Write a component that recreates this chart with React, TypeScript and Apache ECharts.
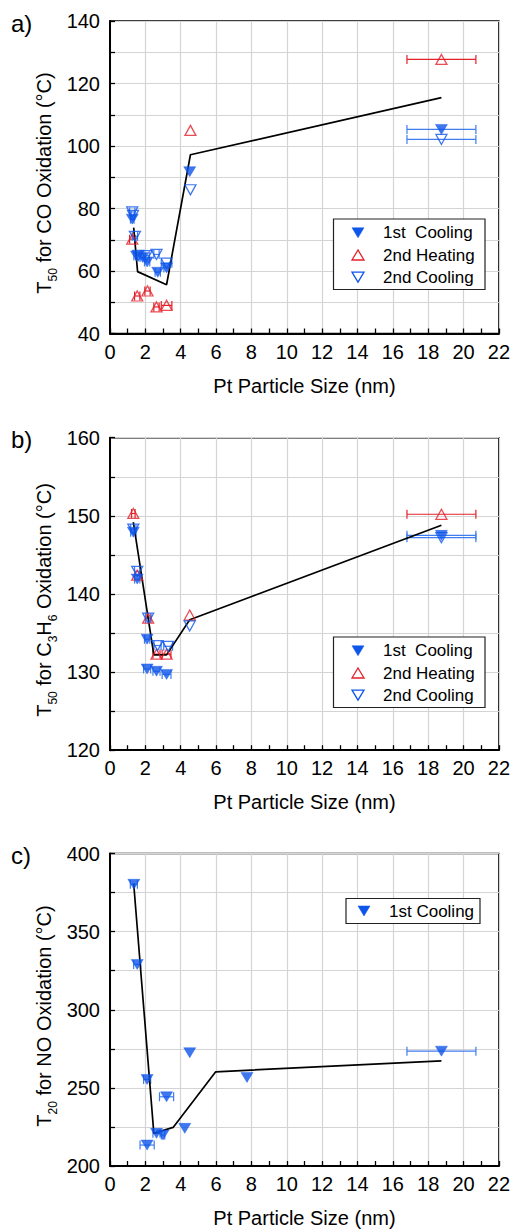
import React, { useEffect, useRef } from "react";
import * as echarts from "echarts";

// ---------- DATA: [particle size (nm), temperature (°C), size error (nm)] ----------
// Panel a) T50 for CO oxidation
const coCooling1 = [
  [1.26, 76.6, 0.1], [1.5, 64.8, 0.15], [1.85, 64.3, 0.15], [2.1, 62.9, 0.15],
  [2.7, 59.6, 0.15], [3.2, 61.0, 0.15], [4.51, 91.8, 0], [18.75, 105.3, 1.95],
];
const coHeating2 = [
  [1.26, 70.2, 0.15], [1.54, 52.0, 0.15], [2.12, 53.6, 0.15], [2.63, 48.5, 0.15],
  [3.2, 49.0, 0.3], [4.55, 105.0, 0], [18.75, 127.7, 1.95],
];
const coCooling2 = [
  [1.26, 78.9, 0.15], [1.3, 77.8, 0.1], [1.41, 71.1, 0.15], [1.6, 65.0, 0.15],
  [2.07, 64.9, 0.15], [2.63, 65.3, 0.15], [3.2, 62.5, 0.3], [4.55, 86.0, 0], [18.75, 102.1, 1.95],
];
const coTrend = [[1.34, 73.9], [1.56, 59.8], [3.2, 55.6], [4.55, 97.2], [18.75, 115.5]];

// Panel b) T50 for C3H6 oxidation
const c3h6Cooling1 = [
  [1.32, 147.9, 0.15], [1.54, 141.9, 0.15], [2.1, 134.2, 0.15], [2.1, 130.4, 0.2],
  [2.63, 130.1, 0.2], [3.2, 129.7, 0.25], [18.75, 147.5, 1.95],
];
const c3h6Heating2 = [
  [1.32, 150.3, 0.1], [1.54, 142.4, 0.15], [2.16, 136.9, 0.15], [2.63, 132.3, 0.2],
  [3.2, 132.3, 0.25], [4.51, 137.3, 0], [18.75, 150.2, 1.95],
];
const c3h6Cooling2 = [
  [1.32, 148.3, 0.15], [1.54, 142.9, 0.15], [2.16, 136.9, 0.15], [2.69, 133.4, 0.2],
  [3.29, 133.3, 0.25], [4.51, 135.9, 0], [18.75, 147.2, 1.95],
];
const c3h6Trend = [[1.32, 149.2], [2.48, 132.2], [3.2, 132.2], [4.51, 136.7], [18.75, 148.8]];

// Panel c) T20 for NO oxidation
const noCooling1 = [
  [1.35, 380.3, 0.2], [1.54, 329.0, 0.2], [2.1, 255.4, 0.2], [2.1, 213.4, 0.4],
  [2.63, 220.9, 0.2], [3.0, 219.8, 0.1], [3.2, 244.3, 0.4], [4.23, 224.1, 0],
  [4.51, 272.5, 0], [7.75, 256.7, 0], [18.75, 273.5, 1.95],
];
const noTrend = [[1.34, 380.8], [2.48, 220.9], [3.57, 224.7], [5.98, 260.3], [18.75, 267.3]];

// Axis ranges / ticks
const xRange = [0, 22];
const yRanges = [
  { min: 40, max: 140, step: 10, label: 20 },
  { min: 120, max: 160, step: 5, label: 10 },
  { min: 200, max: 400, step: 25, label: 50 },
];
const panelLetters = ["a)", "b)", "c)"];
const legendNames = ["1st  Cooling", "2nd Heating", "2nd Cooling"];

// ---------- STYLE ----------
const FONT = "'Liberation Sans', Arial, sans-serif";
const BLUE = "#0e55ea";
const BLUE_ERR = "#3f7cf0";
const RED = "#e3212b";
const GRID_LEFT = 110;
const GRID_W = 390;
const GRID_H = 312.5;
const GRID_TOPS = [21, 437.7, 853.5];

function errSeries(data: number[][], color: string, idx: number) {
  return {
    type: "custom",
    xAxisIndex: idx,
    yAxisIndex: idx,
    z: 3,
    silent: true,
    encode: { x: 0, y: 1 },
    data,
    renderItem: (params: any, api: any) => {
      const x = api.value(0);
      const y = api.value(1);
      const e = api.value(2);
      if (!e) return { type: "group", children: [] };
      const a = api.coord([x - e, y]);
      const b = api.coord([x + e, y]);
      const h = 4.5;
      const st = { stroke: color, lineWidth: 1.2 };
      return {
        type: "group",
        children: [
          { type: "line", shape: { x1: a[0], y1: a[1], x2: b[0], y2: b[1] }, style: st },
          { type: "line", shape: { x1: a[0], y1: a[1] - h, x2: a[0], y2: a[1] + h }, style: st },
          { type: "line", shape: { x1: b[0], y1: b[1] - h, x2: b[0], y2: b[1] + h }, style: st },
        ],
      };
    },
  };
}

function scatter(data: number[][], kind: "filled" | "up" | "down", idx: number) {
  const color = kind === "up" ? RED : BLUE;
  return {
    type: "scatter",
    xAxisIndex: idx,
    yAxisIndex: idx,
    encode: { x: 0, y: 1 },
    data,
    symbol: "triangle",
    symbolRotate: kind === "up" ? 0 : 180,
    symbolSize: kind === "filled" ? [12, 10] : [11, 10],
    z: kind === "filled" ? 6 : 5,
    itemStyle:
      kind === "filled"
        ? { color: BLUE, borderColor: BLUE, borderWidth: 0.5 }
        : { color: "rgba(0,0,0,0)", borderColor: color, borderWidth: 1.3 },
  };
}

function trend(data: number[][], idx: number) {
  return {
    type: "line",
    xAxisIndex: idx,
    yAxisIndex: idx,
    data,
    showSymbol: false,
    symbol: "none",
    z: 4,
    lineStyle: { color: "#000", width: 1.7 },
  };
}

function triPoints(cx: number, cy: number, up: boolean) {
  return up
    ? [[cx - 6, cy + 5], [cx + 6, cy + 5], [cx, cy - 5]]
    : [[cx - 6, cy - 5], [cx + 6, cy - 5], [cx, cy + 5]];
}

function legendBox(x: number, y: number, w: number, rows: string[], kinds: string[], symX: number, textX: number) {
  const rowH = 22.2;
  const h = rows.length === 1 ? 25 : 70.5;
  const children: any[] = [
    { type: "rect", shape: { x, y, width: w, height: h }, style: { fill: "#fff", stroke: "#222", lineWidth: 1.2 }, z: 20 },
  ];
  rows.forEach((r, i) => {
    const cy = rows.length === 1 ? y + h / 2 : y + 13.8 + i * rowH;
    const k = kinds[i];
    children.push({
      type: "polygon",
      shape: { points: triPoints(symX, cy, k === "up") },
      style:
        k === "filled"
          ? { fill: BLUE, stroke: BLUE, lineWidth: 0.5 }
          : { fill: "none", stroke: k === "up" ? RED : BLUE, lineWidth: 1.3 },
      z: 21,
    });
    children.push({
      type: "text",
      style: { text: r, x: textX, y: cy, fontSize: 17, fontFamily: FONT, fill: "#000", verticalAlign: "middle", align: "left" },
      z: 21,
    });
  });
  return { type: "group", children };
}

const richStyles = {
  n: { fontSize: 20, lineHeight: 30, fontFamily: FONT, color: "#000", verticalAlign: "middle" },
  s: { fontSize: 12, lineHeight: 12, fontFamily: FONT, color: "#000", verticalAlign: "bottom" },
};

function yTitle(cy: number, text: string) {
  return {
    type: "text",
    x: 44,
    y: cy,
    rotation: Math.PI / 2,
    style: { text, rich: richStyles, align: "center", verticalAlign: "middle", fontFamily: FONT },
  };
}

export default function App() {
  const ref = useRef<HTMLDivElement>(null);
  useEffect(() => {
    document.body.style.margin = "0";
    const chart = echarts.init(ref.current!, null, { renderer: "svg" });

    const grids = GRID_TOPS.map((t) => ({
      left: GRID_LEFT,
      top: t,
      width: GRID_W,
      height: GRID_H,
      show: true,
      borderColor: "#000",
      borderWidth: 1.5,
      backgroundColor: "transparent",
      containLabel: false,
    }));

    const xAxes = GRID_TOPS.map((_, i) => ({
      type: "value",
      gridIndex: i,
      min: xRange[0],
      max: xRange[1],
      interval: 2,
      name: "Pt Particle Size (nm)",
      nameLocation: "middle",
      nameGap: 42,
      nameTextStyle: { fontSize: 20, fontFamily: FONT, color: "#000" },
      axisLine: { onZero: false, lineStyle: { color: "#000", width: 2 } },
      axisTick: { inside: true, length: 5, lineStyle: { color: "#000", width: 1.3 } },
      minorTick: { show: true, splitNumber: 2, length: 5, lineStyle: { color: "#000", width: 1.3 } },
      axisLabel: { fontSize: 20, fontFamily: FONT, color: "#000", margin: 8 },
      splitLine: { show: true, lineStyle: { color: "#d4d4d4", width: 1.2 } },
    }));

    const yAxes = yRanges.map((r, i) => ({
      type: "value",
      gridIndex: i,
      min: r.min,
      max: r.max,
      interval: r.step,
      axisLine: { onZero: false, lineStyle: { color: "#000", width: 2 } },
      axisTick: { inside: true, length: 5, lineStyle: { color: "#000", width: 1.3 } },
      axisLabel: {
        fontSize: 20,
        fontFamily: FONT,
        color: "#000",
        margin: 10,
        formatter: (v: number) => (v % r.label === 0 ? String(v) : ""),
      },
      splitLine: { show: true, lineStyle: { color: "#d4d4d4", width: 1.2 } },
    }));

    const series: any[] = [
      trend(coTrend, 0),
      errSeries(coHeating2, RED, 0),
      errSeries(coCooling2, BLUE_ERR, 0),
      errSeries(coCooling1, BLUE_ERR, 0),
      scatter(coHeating2, "up", 0),
      scatter(coCooling2, "down", 0),
      scatter(coCooling1, "filled", 0),

      trend(c3h6Trend, 1),
      errSeries(c3h6Heating2, RED, 1),
      errSeries(c3h6Cooling2, BLUE_ERR, 1),
      errSeries(c3h6Cooling1, BLUE_ERR, 1),
      scatter(c3h6Heating2, "up", 1),
      scatter(c3h6Cooling2, "down", 1),
      scatter(c3h6Cooling1, "filled", 1),

      trend(noTrend, 2),
      errSeries(noCooling1, BLUE_ERR, 2),
      scatter(noCooling1, "filled", 2),
    ];

    const graphic: any[] = [
      ...panelLetters.map((l, i) => ({
        type: "text",
        x: 11,
        y: GRID_TOPS[i] + 2,
        style: { text: l, fontSize: 24, fontFamily: FONT, fill: "#000", verticalAlign: "middle" },
      })),
      yTitle(183, "{n|T}{s|50}{n| for CO Oxidation (°C)}"),
      yTitle(600, "{n|T}{s|50}{n| for C}{s|3}{n|H}{s|6}{n| Oxidation (°C)}"),
      yTitle(1016, "{n|T}{s|20}{n| for NO Oxidation (°C)}"),
      legendBox(333.5, 219, 151.5, legendNames, ["filled", "up", "down"], 358, 383),
      legendBox(333.5, 637, 151.5, legendNames, ["filled", "up", "down"], 358, 383),
      legendBox(346, 898.5, 134, ["1st Cooling"], ["filled"], 364, 389),
    ];

    chart.setOption({
      animation: false,
      backgroundColor: "#fff",
      textStyle: { fontFamily: FONT },
      grid: grids,
      xAxis: xAxes,
      yAxis: yAxes,
      series,
      graphic,
    });
    return () => chart.dispose();
  }, []);
  return <div ref={ref} style={{ width: 513, height: 1232 }} />;
}
